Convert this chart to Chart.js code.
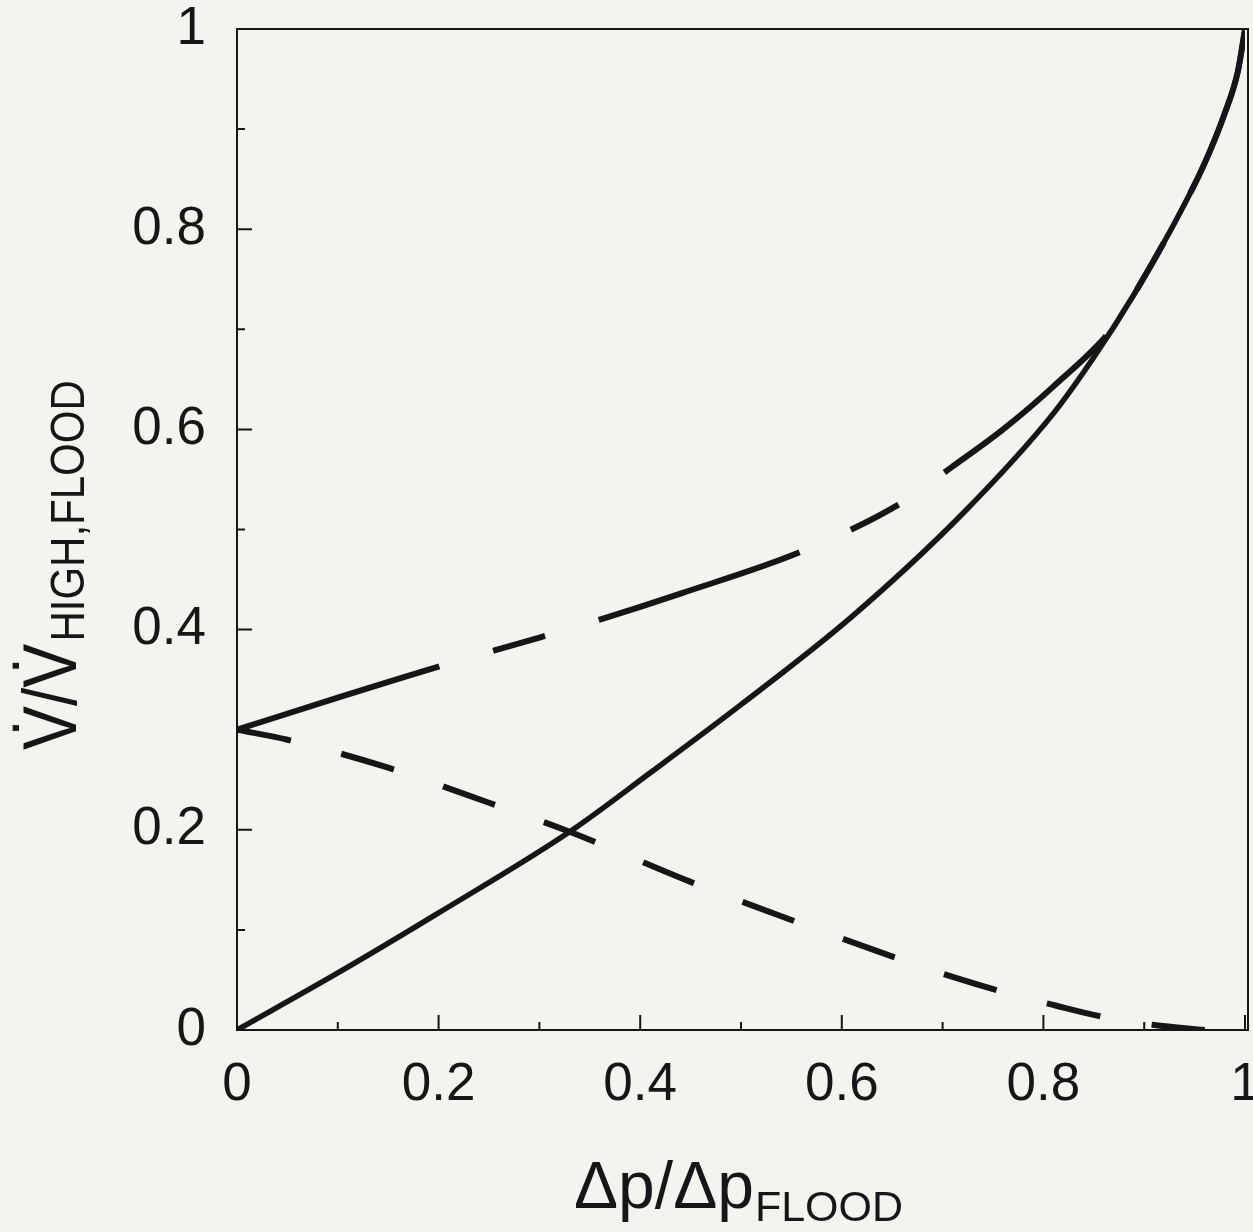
<!DOCTYPE html>
<html>
<head>
<meta charset="utf-8">
<title>Volumenstrom</title>
<script src="https://cdn.jsdelivr.net/npm/chart.js@4.4.1/dist/chart.umd.min.js"></script>
<style>
  html, body { margin: 0; padding: 0; background: #f3f3ef; }
  canvas { display: block; }
</style>
</head>
<body>
<canvas id="myChart" width="1253" height="1232"></canvas>
<script>
// curve values (x = dp/dp_flood, y = V/V_high,flood)
const solidX = [0, 0.1, 0.2, 0.33, 0.41, 0.5, 0.61, 0.72, 0.81, 0.85, 0.89, 0.93, 0.96, 0.98, 0.993, 1];
const solidY = [0, 0.057, 0.117, 0.198, 0.257, 0.325, 0.413, 0.516, 0.616, 0.672, 0.735, 0.806, 0.866, 0.916, 0.958, 1];

const upperX = [0, 0.1, 0.2, 0.3, 0.36, 0.44, 0.56, 0.66, 0.71, 0.76, 0.81, 0.87, 0.89, 0.93, 0.96, 0.98, 0.993, 1];
const upperY = [0.30, 0.332, 0.363, 0.392, 0.41, 0.436, 0.478, 0.527, 0.563, 0.60, 0.643, 0.703, 0.735, 0.806, 0.866, 0.916, 0.958, 1];

const lowerX = [0, 0.05, 0.15, 0.25, 0.33, 0.45, 0.555, 0.657, 0.71, 0.76, 0.81, 0.86, 0.91, 0.96];
const lowerY = [0.30, 0.29, 0.262, 0.227, 0.198, 0.148, 0.108, 0.071, 0.053, 0.038, 0.025, 0.013, 0.005, 0];

const majorTicks = [0, 0.2, 0.4, 0.6, 0.8, 1];
const minorTicks = [0.1, 0.3, 0.5, 0.7, 0.9];

const ink = "#161616";
const fontFamily = "'Liberation Sans', Arial, Helvetica, sans-serif";

function points(xs, ys) {
  return xs.map((x, i) => ({ x: x, y: ys[i] }));
}

function tickText(value) {
  return String(Number(value.toFixed(2)));
}

// frame, inward ticks and axis titles
const framePlugin = {
  id: "frame",
  afterDraw(chart) {
    const ctx = chart.ctx;
    const a = chart.chartArea;
    const xs = chart.scales.x;
    const ys = chart.scales.y;
    ctx.save();
    ctx.strokeStyle = ink;
    ctx.lineWidth = 2;
    ctx.strokeRect(a.left, a.top, a.right - a.left + 3, a.bottom - a.top);

    ctx.beginPath();
    majorTicks.forEach(v => {
      const px = xs.getPixelForValue(v);
      ctx.moveTo(px, a.bottom);
      ctx.lineTo(px, a.bottom - 15);
      const py = ys.getPixelForValue(v);
      ctx.moveTo(a.left, py);
      ctx.lineTo(a.left + 15, py);
    });
    minorTicks.forEach(v => {
      const px = xs.getPixelForValue(v);
      ctx.moveTo(px, a.bottom);
      ctx.lineTo(px, a.bottom - 8);
      const py = ys.getPixelForValue(v);
      ctx.moveTo(a.left, py);
      ctx.lineTo(a.left + 8, py);
    });
    ctx.stroke();

    ctx.fillStyle = ink;
    ctx.textBaseline = "alphabetic";
    ctx.textAlign = "left";

    // x title
    ctx.font = "66px " + fontFamily;
    const xMain = "\u0394p/\u0394p";
    ctx.fillText(xMain, 574, 1208);
    const w = ctx.measureText(xMain).width;
    ctx.font = "43px " + fontFamily;
    ctx.fillText("FLOOD", 574 + w + 1, 1221);

    // y title, rotated
    ctx.translate(76, 750);
    ctx.rotate(-Math.PI / 2);
    ctx.scale(1, 1.15);
    ctx.font = "66px " + fontFamily;
    const yMain = "V\u0307/V\u0307";
    ctx.fillText(yMain, 0, 0);
    const wy = ctx.measureText(yMain).width;
    ctx.font = "42px " + fontFamily;
    ctx.fillText("HIGH,FLOOD", wy + 2, 7);
    ctx.restore();
  }
};

const data = {
  datasets: [
    {
      label: "solid",
      data: points(solidX, solidY),
      borderColor: ink,
      borderWidth: 5.5,
      pointRadius: 0,
      cubicInterpolationMode: "monotone"
    },
    {
      label: "upper",
      data: points(upperX, upperY),
      borderColor: ink,
      borderWidth: 6,
      borderDash: [212, 56, 54, 56],
      borderCapStyle: "butt",
      pointRadius: 0,
      cubicInterpolationMode: "monotone"
    },
    {
      label: "lower",
      data: points(lowerX, lowerY),
      borderColor: ink,
      borderWidth: 6,
      borderDash: [55, 52],
      borderCapStyle: "butt",
      pointRadius: 0,
      cubicInterpolationMode: "monotone"
    }
  ]
};

const options = {
  responsive: false,
  animation: false,
  events: [],
  layout: { padding: { top: 29, right: 8, left: 0, bottom: 0 } },
  plugins: {
    legend: { display: false },
    tooltip: { enabled: false }
  },
  scales: {
    x: {
      type: "linear",
      min: 0,
      max: 1,
      grid: { display: false, drawTicks: false },
      border: { display: false },
      ticks: {
        stepSize: 0.2,
        padding: 24,
        maxRotation: 0,
        color: ink,
        font: { family: fontFamily, size: 53 },
        callback: tickText
      },
      afterFit(scale) {
        scale.height = 202;
        scale.paddingLeft = 0;
        scale.paddingRight = 0;
      }
    },
    y: {
      min: 0,
      max: 1,
      grid: { display: false, drawTicks: false },
      border: { display: false },
      ticks: {
        stepSize: 0.2,
        padding: 31,
        color: ink,
        font: { family: fontFamily, size: 53 },
        callback: tickText
      },
      afterFit(scale) {
        scale.width = 237;
        scale.paddingTop = 0;
        scale.paddingBottom = 0;
      }
    }
  }
};

const ctx = document.getElementById("myChart").getContext("2d");
const myChart = new Chart(ctx, {
  type: "line",
  data: data,
  options: options,
  plugins: [framePlugin]
});
</script>
</body>
</html>
